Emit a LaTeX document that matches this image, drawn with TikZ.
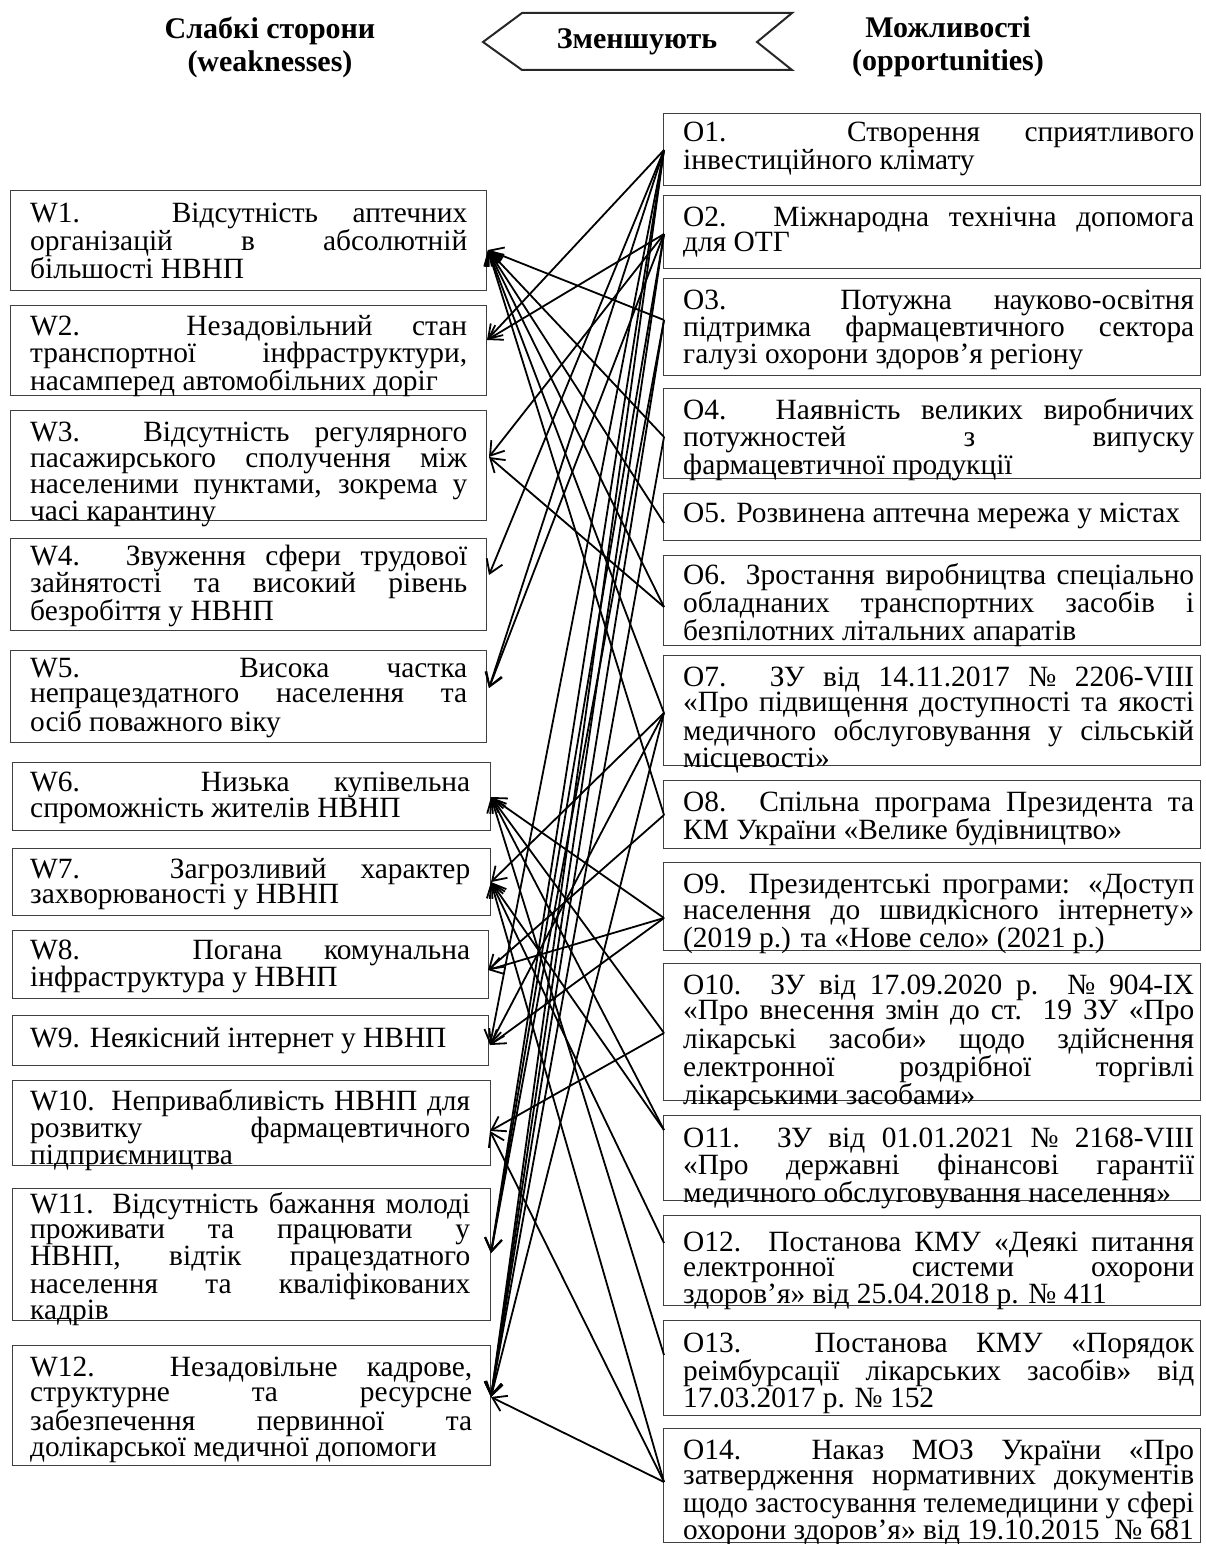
\documentclass[tikz,border=0pt]{standalone}
\usepackage{fontspec}
\usepackage{graphicx}
\setmainfont{Liberation Serif}
\usetikzlibrary{arrows.meta}
\tikzset{
  box/.style={draw=black!75, line width=1.4pt, rectangle, inner sep=0pt, anchor=north west},
  txt/.style={anchor=base west, inner sep=0pt, font=\fontsize{29.4}{25.8}\selectfont},
  head/.style={font=\bfseries\fontsize{30}{33}\selectfont, align=center, inner sep=0pt},
  conn/.style={line width=1.8pt, -{Straight Barb[length=13pt,width=17pt]}},
}
\newcommand{\wpar}[2]{\parbox[t]{#1pt}{\hyphenpenalty=10000 \tolerance=10000 \hbadness=10000 \hfuzz=20pt #2}}
\newcommand{\fitline}[1]{\resizebox{\linewidth}{\height}{#1}}
\begin{document}
\begin{tikzpicture}[x=1pt,y=-1pt]
\useasboundingbox (0,0) rectangle (1205,1544);
% header
\node[head] (hw) at (270,47) {Слабкі сторони\\(weaknesses)};
\node[head] (ho) at (948,47) {Можливості\\(opportunities)};
\draw[line width=2pt, black!85] (483,42) -- (522,13) -- (792,13) -- (757,42) -- (792,70) -- (522,70) -- cycle;
\node[head] (hz) at (637,42) {Зменшують};
% W boxes
\node[box, minimum width=476, minimum height=100] (w1) at (10,190) {};
\node[box, minimum width=476, minimum height=90] (w2) at (10,305) {};
\node[box, minimum width=476, minimum height=110] (w3) at (10,410) {};
\node[box, minimum width=476, minimum height=92] (w4) at (10,538) {};
\node[box, minimum width=476, minimum height=92] (w5) at (10,650) {};
\node[box, minimum width=478, minimum height=68] (w6) at (12,762) {};
\node[box, minimum width=478, minimum height=67] (w7) at (12,848) {};
\node[box, minimum width=476, minimum height=68] (w8) at (12,930) {};
\node[box, minimum width=476, minimum height=50] (w9) at (12,1015) {};
\node[box, minimum width=478, minimum height=85] (w10) at (12,1080) {};
\node[box, minimum width=478, minimum height=132] (w11) at (12,1188) {};
\node[box, minimum width=478, minimum height=120] (w12) at (12,1345) {};
% O boxes
\node[box, minimum width=537, minimum height=72] (o1) at (663,113) {};
\node[box, minimum width=537, minimum height=73] (o2) at (663,195) {};
\node[box, minimum width=537, minimum height=97] (o3) at (663,278) {};
\node[box, minimum width=537, minimum height=90] (o4) at (663,388) {};
\node[box, minimum width=537, minimum height=47] (o5) at (663,493) {};
\node[box, minimum width=537, minimum height=90] (o6) at (663,555) {};
\node[box, minimum width=537, minimum height=110] (o7) at (663,655) {};
\node[box, minimum width=537, minimum height=68] (o8) at (663,780) {};
\node[box, minimum width=537, minimum height=88] (o9) at (663,862) {};
\node[box, minimum width=537, minimum height=137] (o10) at (663,963) {};
\node[box, minimum width=537, minimum height=85] (o11) at (663,1115) {};
\node[box, minimum width=537, minimum height=90] (o12) at (663,1215) {};
\node[box, minimum width=537, minimum height=95] (o13) at (663,1320) {};
\node[box, minimum width=537, minimum height=114] (o14) at (663,1428) {};
% W texts
\node[txt] (w1t) at (30,222) {\wpar{437}{W1. Відсутність аптечних\linebreak організацій в абсолютній\linebreak більшості НВНП}};
\node[txt] (w2t) at (30,335) {\wpar{437}{W2. Незадовільний стан\linebreak транспортної інфраструктури,\linebreak насамперед автомобільних доріг}};
\node[txt] (w3t) at (30,441) {\wpar{437}{W3. Відсутність регулярного\linebreak пасажирського сполучення між\linebreak населеними пунктами, зокрема у\linebreak часі карантину}};
\node[txt] (w4t) at (30,565) {\wpar{437}{W4. Звуження сфери трудової\linebreak зайнятості та високий рівень\linebreak безробіття у НВНП}};
\node[txt] (w5t) at (30,677) {\wpar{437}{W5. Висока частка\linebreak непрацездатного населення та\linebreak осіб поважного віку}};
\node[txt] (w6t) at (30,791) {\wpar{440}{W6. Низька купівельна\linebreak спроможність жителів НВНП}};
\node[txt] (w7t) at (30,878) {\wpar{440}{W7. Загрозливий характер\linebreak захворюваності у НВНП}};
\node[txt] (w8t) at (30,959) {\wpar{440}{W8. Погана комунальна\linebreak інфраструктура у НВНП}};
\node[txt] (w9t) at (30,1047) {\wpar{440}{W9. Неякісний інтернет у НВНП}};
\node[txt] (w10t) at (30,1110) {\wpar{440}{W10. Непривабливість НВНП для\linebreak розвитку фармацевтичного\linebreak підприємництва}};
\node[txt] (w11t) at (30,1213) {\wpar{440}{W11. Відсутність бажання молоді\linebreak проживати та працювати у\linebreak НВНП, відтік працездатного\linebreak населення та кваліфікованих\linebreak кадрів}};
\node[txt] (w12t) at (30,1376) {\wpar{442}{W12. Незадовільне кадрове,\linebreak структурне та ресурсне\linebreak забезпечення первинної та\linebreak долікарської медичної допомоги}};
% O texts
\node[txt] (o1t) at (683,142) {\wpar{511}{О1. Створення сприятливого\linebreak інвестиційного клімату}};
\node[txt] (o2t) at (683,226) {\wpar{511}{О2. Міжнародна технічна допомога\linebreak для ОТГ}};
\node[txt] (o3t) at (683,309) {\wpar{511}{О3. Потужна науково-освітня\linebreak підтримка фармацевтичного сектора\linebreak галузі охорони здоров’я регіону}};
\node[txt] (o4t) at (683,419) {\wpar{511}{О4. Наявність великих виробничих\linebreak потужностей з випуску\linebreak фармацевтичної продукції}};
\node[txt] (o5t) at (683,522) {\wpar{511}{О5. Розвинена аптечна мережа у містах}};
\node[txt] (o6t) at (683,584) {\wpar{511}{О6. Зростання виробництва спеціально\linebreak обладнаних транспортних засобів і\linebreak безпілотних літальних апаратів}};
\node[txt] (o7t) at (683,686) {\wpar{511}{О7. ЗУ від 14.11.2017 № 2206-VIII\linebreak «Про підвищення доступності та якості\linebreak медичного обслуговування у сільській\linebreak місцевості»}};
\node[txt] (o8t) at (683,811) {\wpar{511}{О8. Спільна програма Президента та\linebreak КМ України «Велике будівництво»}};
\node[txt] (o9t) at (683,893) {\wpar{511}{О9. Президентські програми: «Доступ\linebreak населення до швидкісного інтернету»\linebreak (2019 р.) та «Нове село» (2021 р.)}};
\node[txt] (o10t) at (683,994) {\wpar{511}{О10. ЗУ від 17.09.2020 р. № 904-IX\linebreak «Про внесення змін до ст. 19 ЗУ «Про\linebreak лікарські засоби» щодо здійснення\linebreak електронної роздрібної торгівлі\linebreak лікарськими засобами»}};
\node[txt] (o11t) at (683,1147) {\wpar{511}{О11. ЗУ від 01.01.2021 № 2168-VIII\linebreak «Про державні фінансові гарантії\linebreak медичного обслуговування населення»}};
\node[txt] (o12t) at (683,1251) {\wpar{511}{О12. Постанова КМУ «Деякі питання\linebreak електронної системи охорони\linebreak здоров’я» від 25.04.2018 р. № 411}};
\node[txt] (o13t) at (683,1352) {\wpar{511}{О13. Постанова КМУ «Порядок\linebreak реімбурсації лікарських засобів» від\linebreak 17.03.2017 р. № 152}};
\node[txt] (o14t) at (683,1459) {\wpar{511}{О14. Наказ МОЗ України «Про\linebreak затвердження нормативних документів\linebreak \fitline{щодо застосування телемедицини у сфері}\linebreak охорони здоров’я» від 19.10.2015~~№ 681}};
% connector end points
\coordinate (w1p) at (488,250);
\coordinate (w2p) at (487,340);
\coordinate (w3p) at (489,457);
\coordinate (w4p) at (489,575);
\coordinate (w5p) at (489,688);
\coordinate (w6p) at (491,797);
\coordinate (w7p) at (491,882);
\coordinate (w8p) at (488,970);
\coordinate (w9p) at (490,1045);
\coordinate (w10p) at (490,1131);
\coordinate (w11p) at (491,1253);
\coordinate (w12p) at (491,1397);
\coordinate (o1p) at (664,150);
\coordinate (o2p) at (664,234);
\coordinate (o3p) at (664,320);
\coordinate (o4p) at (664,437);
\coordinate (o5p) at (664,523);
\coordinate (o6p) at (664,607);
\coordinate (o7p) at (664,713);
\coordinate (o8p) at (664,815);
\coordinate (o9p) at (664,918);
\coordinate (o10p) at (664,1033);
\coordinate (o11p) at (664,1130);
\coordinate (o12p) at (664,1243);
\coordinate (o13p) at (664,1355);
\coordinate (o14p) at (664,1482);
% connectors
\foreach \o/\w in {o1/w2,o1/w4,o1/w5,o1/w9,o1/w11,o1/w12,
  o2/w2,o2/w3,o2/w5,o2/w11,o2/w12,
  o3/w1,o3/w11,o3/w12,
  o4/w1,o4/w12,
  o5/w1,
  o6/w1,o6/w3,
  o7/w1,o7/w7,o7/w9,o7/w12,
  o8/w1,o8/w8,
  o9/w6,o9/w8,o9/w9,
  o10/w6,o10/w10,
  o11/w6,o11/w7,
  o12/w7,
  o13/w6,
  o14/w7,o14/w10,o14/w12}
  \draw[conn] (\o p) -- (\w p);
\end{tikzpicture}
\end{document}
